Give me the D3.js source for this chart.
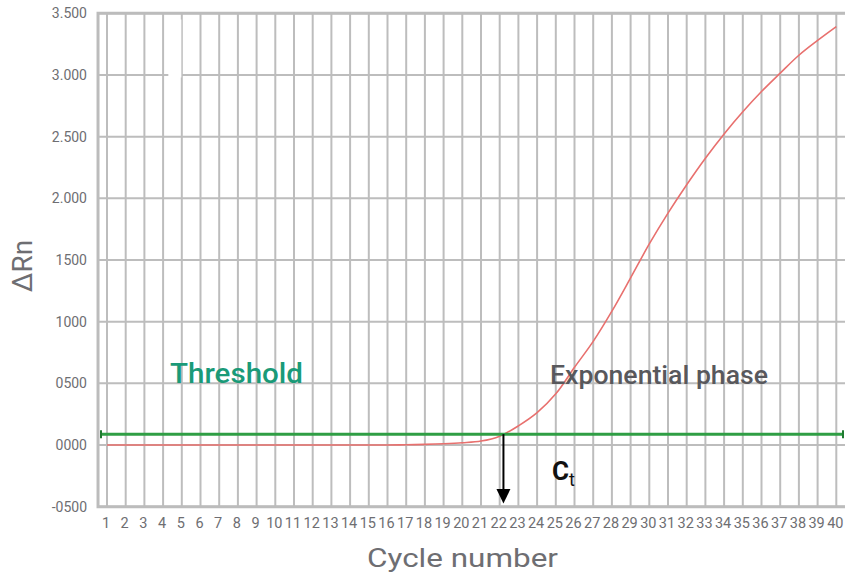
<!DOCTYPE html>
<html>
<head>
<meta charset="utf-8">
<script src="https://cdn.jsdelivr.net/npm/d3@7"></script>
<style>
  body { margin: 0; background: #fff; }
  svg { display: block; font-family: Roboto, "DejaVu Sans", sans-serif; }
</style>
</head>
<body>
<svg width="845" height="576"></svg>
<script>
// data
const cycles = d3.range(1, 41);
const deltaRn = [0, 0, 0, 0, 0, 0, 0, 0, 0, 0,
                 0, 0, 0, 0, 0, 0, 2, 5, 10, 18,
                 32, 72, 155, 262, 415, 630, 840, 1085, 1355, 1630,
                 1880, 2110, 2325, 2522, 2702, 2866, 3015, 3160, 3280, 3392];
const yTicks = [-500, 0, 500, 1000, 1500, 2000, 2500, 3000, 3500];
const yTickLabels = ["-0500", "0000", "0500", "1000", "1500", "2.000", "2.500", "3.000", "3.500"];
const threshold = 88;
const ctCycle = 22.2;

let svg = d3.select("svg");
let width = +svg.attr("width");

let x = d3.scaleLinear().domain([1, 40]).range([107, 836.3]);
let y = d3.scaleLinear().domain([-500, 3500]).range([506.7, 13.3]);

const left = x(0.52);
const right = width;
const gridColor = "#bdbdbd";
const textColor = "#6e6e72";

let grid = svg.append("g");

// horizontal gridlines
grid.selectAll(".hgrid")
    .data(yTicks)
    .enter()
    .append("line")
    .attr("class", "hgrid")
    .attr("x1", left)
    .attr("x2", right)
    .attr("y1", d => y(d))
    .attr("y2", d => y(d))
    .style("stroke", gridColor)
    .style("stroke-width", 2);

// vertical gridlines
grid.selectAll(".vgrid")
    .data(cycles)
    .enter()
    .append("line")
    .attr("class", "vgrid")
    .attr("x1", d => x(d))
    .attr("x2", d => x(d))
    .attr("y1", y(3500))
    .attr("y2", y(-500))
    .style("stroke", gridColor)
    .style("stroke-width", 2);

// frame: top, left, bottom
svg.append("path")
    .attr("d", `M${right},${y(3500)}H${left}V${y(-500)}H${right}`)
    .attr("fill", "none")
    .style("stroke", "#bcbcbc")
    .style("stroke-width", 3);

// small white patch artifact in the original image
svg.append("rect")
    .attr("x", x(4.28)).attr("y", y(3450))
    .attr("width", 13).attr("height", 58)
    .attr("fill", "#fff");

// y tick labels
svg.append("g")
    .selectAll("text")
    .data(yTicks)
    .enter()
    .append("text")
    .attr("x", 87)
    .attr("y", d => y(d))
    .attr("dy", "0.35em")
    .attr("text-anchor", "end")
    .attr("fill", textColor)
    .style("font-size", "14px")
    .text((d, i) => yTickLabels[i]);

// x tick labels
svg.append("g")
    .selectAll("text")
    .data(cycles)
    .enter()
    .append("text")
    .attr("x", d => x(d) - 1)
    .attr("y", 528)
    .attr("text-anchor", "middle")
    .attr("fill", textColor)
    .style("font-size", "14.5px")
    .text(d => d);

// axis titles
svg.append("text")
    .attr("x", 367)
    .attr("y", 567)
    .attr("fill", textColor)
    .attr("textLength", 191)
    .attr("lengthAdjust", "spacingAndGlyphs")
    .style("font-size", "26px")
    .text("Cycle number");

svg.append("text")
    .attr("transform", `translate(32,266) rotate(-90)`)
    .attr("text-anchor", "middle")
    .attr("fill", textColor)
    .style("font-size", "28px")
    .text("ΔRn");

// amplification curve
let line = d3.line()
    .x((d, i) => x(cycles[i]))
    .y(d => y(d))
    .curve(d3.curveCatmullRom.alpha(0.5));

svg.append("path")
    .datum(deltaRn)
    .attr("d", line)
    .attr("fill", "none")
    .style("stroke", "#e8706e")
    .style("stroke-width", 1.6);

// threshold line
const tY = y(threshold);
svg.append("line")
    .attr("x1", 101).attr("x2", 843)
    .attr("y1", tY).attr("y2", tY)
    .style("stroke", "#2f9e44")
    .style("stroke-width", 3);
svg.selectAll(".tcap")
    .data([101, 843])
    .enter()
    .append("line")
    .attr("class", "tcap")
    .attr("x1", d => d).attr("x2", d => d)
    .attr("y1", tY - 4).attr("y2", tY + 4)
    .style("stroke", "#1f7a30")
    .style("stroke-width", 2);

// Ct arrow
const cx = x(ctCycle);
svg.append("line")
    .attr("x1", cx).attr("x2", cx)
    .attr("y1", tY).attr("y2", 490)
    .style("stroke", "#000")
    .style("stroke-width", 2);
svg.append("path")
    .attr("d", `M${cx - 7},489L${cx + 7},489L${cx},503.5Z`)
    .attr("fill", "#000");

// annotations
svg.append("text")
    .attr("x", 170)
    .attr("y", 383)
    .attr("fill", "#1a9a78")
    .attr("textLength", 133)
    .attr("lengthAdjust", "spacingAndGlyphs")
    .style("font-size", "27px")
    .style("font-weight", "500")
    .text("Threshold");

svg.append("text")
    .attr("x", 550)
    .attr("y", 384)
    .attr("fill", "#58585c")
    .attr("textLength", 218)
    .attr("lengthAdjust", "spacingAndGlyphs")
    .style("font-size", "26px")
    .style("font-weight", "500")
    .text("Exponential phase");

let ct = svg.append("text")
    .attr("x", 552)
    .attr("y", 480)
    .attr("fill", "#111");
ct.append("tspan")
    .style("font-size", "26px")
    .style("font-weight", "bold")
    .text("C");
ct.append("tspan")
    .attr("dy", 6)
    .style("font-size", "18px")
    .text("t");
</script>
</body>
</html>
